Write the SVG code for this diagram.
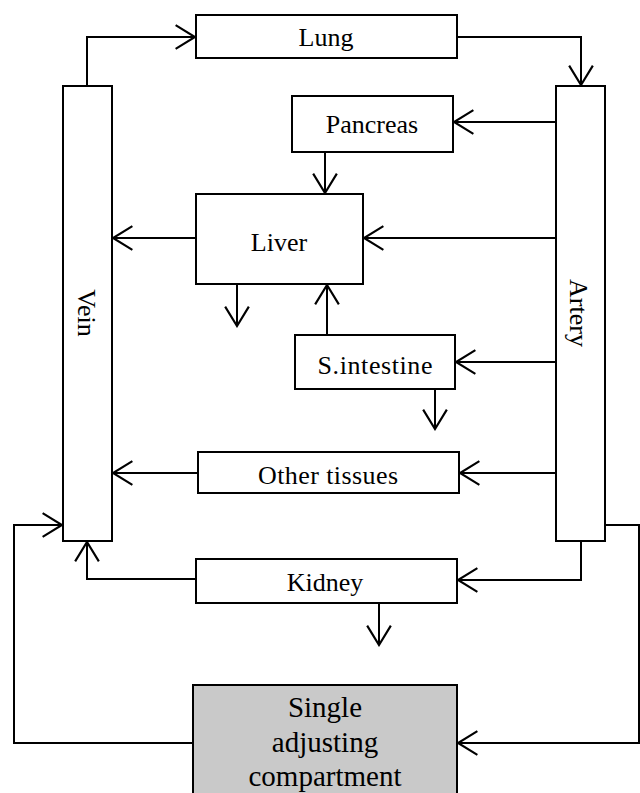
<svg xmlns="http://www.w3.org/2000/svg" width="640" height="793" viewBox="0 0 640 793">
<defs>
<style>
.box{fill:#fff;stroke:#000;stroke-width:2}
.comp{fill:#c9c9c9;stroke:#000;stroke-width:2}
.lbl{font-family:"Liberation Serif","Times New Roman",serif;font-size:26px;fill:#000;text-anchor:middle}
.big{font-family:"Liberation Serif","Times New Roman",serif;font-size:29px;fill:#000;text-anchor:middle}
.con{fill:none;stroke:#000;stroke-width:2}
.arr{marker-end:url(#ah)}
</style>
<marker id="ah" markerUnits="userSpaceOnUse" markerWidth="24" markerHeight="28" viewBox="-20 -13 22 26" refX="0" refY="0" orient="auto">
<path d="M-18,-11 L0,0 L-18,11" fill="none" stroke="#000" stroke-width="2"/>
</marker>
</defs>
<rect width="640" height="793" fill="#fff"/>
<g id="connectors">
<path class="con arr" d="M87,86 V37 H195"/>
<path class="con arr" d="M457,37 H581 V85"/>
<path class="con arr" d="M556,122 H454"/>
<path class="con arr" d="M325,152 V193"/>
<path class="con arr" d="M556,238 H364"/>
<path class="con arr" d="M196,238 H113"/>
<path class="con arr" d="M237,284 V326"/>
<path class="con arr" d="M327,335 V285"/>
<path class="con arr" d="M556,362 H456"/>
<path class="con arr" d="M435,389 V429"/>
<path class="con arr" d="M556,473 H460"/>
<path class="con arr" d="M198,473 H113"/>
<path class="con arr" d="M581,541 V580 H458"/>
<path class="con arr" d="M196,579 H87 V542"/>
<path class="con arr" d="M379,603 V645"/>
<path class="con arr" d="M605,525 H639 V743 H458"/>
<path class="con arr" d="M193,743 H14 V525 H62"/>
</g>
<g id="lung"><rect class="box" x="196" y="15" width="261" height="43"/><text class="lbl" x="326" y="46">Lung</text></g>
<g id="vein"><rect class="box" x="63" y="86" width="49" height="455"/><text class="lbl" transform="translate(78,313) rotate(90)">Vein</text></g>
<g id="artery"><rect class="box" x="556" y="86" width="49" height="455"/><text class="lbl" transform="translate(570,313) rotate(90)">Artery</text></g>
<g id="pancreas"><rect class="box" x="292" y="96" width="161" height="56"/><text class="lbl" x="372" y="133">Pancreas</text></g>
<g id="liver"><rect class="box" x="196" y="194" width="167" height="90"/><text class="lbl" x="279" y="251">Liver</text></g>
<g id="sintestine"><rect class="box" x="295" y="335" width="160" height="54"/><text class="lbl" x="375" y="374" textLength="115" lengthAdjust="spacing">S.intestine</text></g>
<g id="other"><rect class="box" x="198" y="452" width="261" height="41"/><text class="lbl" x="328" y="484" textLength="140" lengthAdjust="spacing">Other tissues</text></g>
<g id="kidney"><rect class="box" x="196" y="559" width="261" height="44"/><text class="lbl" x="325" y="591">Kidney</text></g>
<g id="compartment"><rect class="comp" x="193" y="685" width="264" height="112"/>
<text class="big" x="325" y="717">Single</text>
<text class="big" x="325" y="752">adjusting</text>
<text class="big" x="325" y="786">compartment</text></g>
</svg>
